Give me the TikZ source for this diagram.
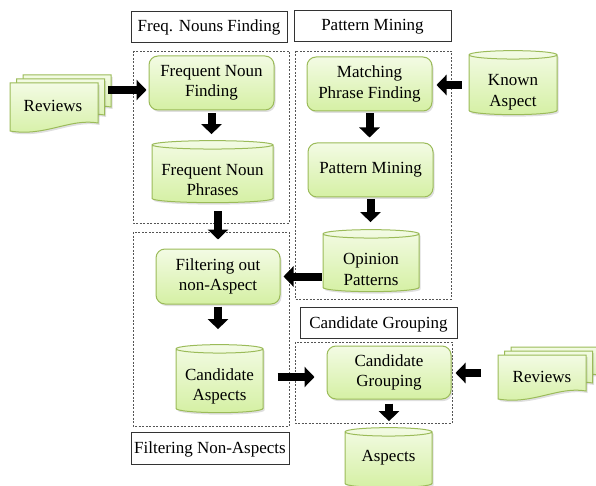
\documentclass[tikz,border=0pt]{standalone}
\usepackage{fontspec}
\setmainfont{Liberation Serif}
\usetikzlibrary{arrows.meta,shapes.geometric,shadows,calc}
\definecolor{gb}{HTML}{9BBB59}
\definecolor{gtop}{HTML}{F3FBE4}
\definecolor{gbot}{HTML}{D5F0A4}
\definecolor{dgray}{HTML}{555555}
\newcommand\mydoc[3]{%
  \path[docsty] (#1,#2) -- ++(88,0) -- ++(0,#3-8)
    .. controls +(-28,-5) and +(35,6) .. ++(-88,8) -- cycle;}
\newcommand\mydocstack[3]{%
  \mydoc{#1+13}{#2-8}{#3-8}
  \mydoc{#1+6.5}{#2-4}{#3-4}
  \mydoc{#1}{#2}{#3}}
\newcommand\cylfill{\rule{60pt}{0pt}\rule{0pt}{36pt}}
\begin{document}
\begin{tikzpicture}[x=1pt,y=-1pt,
  font=\fontsize{17}{20.5}\selectfont,
  shad/.style={drop shadow={opacity=0.25,shadow xshift=1.5pt,shadow yshift=-2pt}},
  proc/.style={draw=gb, line width=1pt, rounded corners=9pt, top color=gtop,
    bottom color=gbot, align=center, inner sep=0pt, shad},
  cyl/.style={cylinder, shape border rotate=90, aspect=0.14, draw=gb,
    line width=1pt, top color=gtop, bottom color=gbot, align=center,
    inner sep=0pt, shad},
  lab/.style={draw=black!80, line width=0.8pt, inner sep=0pt, text height=11pt, text depth=0pt},
  grp/.style={draw=dgray, line width=0.7pt, dash pattern=on 2pt off 1.5pt},
  fat/.style={line width=8pt, -{Triangle[width=20pt,length=10pt]}},
  docsty/.style={draw=gb, line width=1pt, top color=gtop, bottom color=gbot, shad},
  txt/.style={inner sep=0pt, align=center}
]
\useasboundingbox (0,0) rectangle (596,486);

% group boxes
\draw[grp] (133,51) rectangle (289,223);
\draw[grp] (295,51) rectangle (451,299);
\draw[grp] (133,232) rectangle (289,426);
\draw[grp] (295,342) rectangle (452,423);

% labels
\node[lab, minimum width=156pt, minimum height=31pt] (l1) at (209,26.5) {Freq. Nouns Finding};
\node[lab, minimum width=157pt, minimum height=31pt] (l2) at (372.5,25.5) {Pattern Mining};
\node[lab, minimum width=157pt, minimum height=31pt] (l3) at (378.5,322.5) {Candidate Grouping};
\node[lab, minimum width=158pt, minimum height=32pt] (l4) at (210,448) {Filtering Non-Aspects};

% document stacks
\mydocstack{10}{83}{48}
\node[txt] (rev1) at (53,106) {Reviews};
\mydocstack{498}{355}{44}
\node[txt] (rev2) at (542,377) {Reviews};

% process nodes
\node[proc, minimum width=125pt, minimum height=54pt] (fnf) at (211.5,83) {Frequent Noun\\Finding};
\node[proc, minimum width=125pt, minimum height=54pt] (mpf) at (369.5,84) {Matching\\Phrase Finding};
\node[proc, minimum width=125pt, minimum height=54pt] (pm) at (370.5,170) {Pattern Mining};
\node[proc, minimum width=124pt, minimum height=55pt] (fna) at (218,276.5) {Filtering out\\non-Aspect};
\node[proc, minimum width=124pt, minimum height=53pt] (cg) at (389,372.5) {Candidate\\Grouping};

% stores (cylinders) and their texts
\node[cyl, minimum width=121pt, minimum height=62pt] (fnp) at (212.5,174) {\cylfill};
\node[txt] (fnpt) at (212.5,180) {Frequent Noun\\Phrases};
\node[cyl, minimum width=96pt, minimum height=62pt] (op) at (371,263) {\cylfill};
\node[txt] (opt) at (371,269.5) {Opinion\\Patterns};
\node[cyl, minimum width=88pt, minimum height=64pt] (ka) at (513,85) {\cylfill};
\node[txt] (kat) at (513,92) {Known\\Aspect};
\node[cyl, minimum width=87pt, minimum height=68pt] (ca) at (219.5,381) {\cylfill};
\node[txt] (cat) at (219.5,386.5) {Candidate\\Aspects};
\node[cyl, minimum width=87pt, minimum height=60pt] (asp) at (388.5,460) {\cylfill};
\node[txt] (aspt) at (388.5,458) {Aspects};

% connectors
\coordinate (rev1out) at (108,90);
\draw[fat, shorten >=2pt] (rev1out) -- (fnf.west |- rev1out);
\draw[fat, shorten <=3pt, shorten >=6pt] (fnf.south) -- (fnf.south |- fnp.north);
\draw[fat, shorten <=8pt, shorten >=9pt] (fnp.south -| fna.north) -- (fna.north);
\draw[fat, shorten <=7pt, shorten >=4pt] (ka.west) -- (mpf.east |- ka.west);
\draw[fat, shorten <=2pt, shorten >=5pt] (mpf.south) -- (mpf.south |- pm.north);
\draw[fat, shorten <=2pt, shorten >=7pt] (pm.south) -- (pm.south |- op.north);
\draw[fat, shorten <=1pt, shorten >=3pt] (op.west |- fna.east) -- (fna.east);
\draw[fat, shorten <=2pt, shorten >=15pt] (fna.south) -- (fna.south |- ca.north);
\coordinate (cay) at ($(ca.east)+(0,-4)$);
\draw[fat, shorten <=14pt, shorten >=12pt] (cay) -- (cg.west |- cay);
\coordinate (rev2out) at (481,373);
\draw[fat, shorten >=4pt] (rev2out) -- (cg.east |- rev2out);
\draw[fat, shorten <=4pt, shorten >=6pt] (cg.south) -- (cg.south |- asp.north);
\end{tikzpicture}
\end{document}
